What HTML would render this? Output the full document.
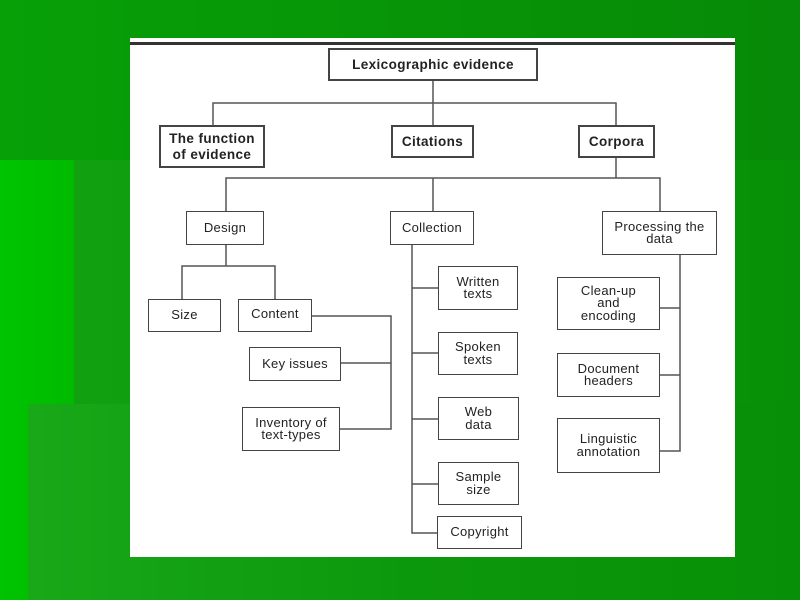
<!DOCTYPE html>
<html><head><style>
html,body{margin:0;padding:0;}
body{width:800px;height:600px;position:relative;overflow:hidden;background:linear-gradient(to right,#00c400,#009a00 40%,#008a00);font-family:"Liberation Sans",sans-serif;}
.top{position:absolute;left:0;top:0;width:800px;height:160px;background:linear-gradient(to right,#07a007,#078a07);}
.b1{position:absolute;left:74px;top:160px;width:726px;height:440px;background:linear-gradient(to right,#10a010,#0a9a0a 50%,#079007);}
.b2{position:absolute;left:28px;top:404px;width:772px;height:196px;background:linear-gradient(to right,#18a818,#0c980c 50%,#079007);}
.paper{position:absolute;left:130px;top:38px;width:605px;height:519px;background:#fff;}
.bar{position:absolute;left:130px;top:42px;width:605px;height:3px;background:#333;}
.bx{position:absolute;border:1.5px solid #444;box-sizing:border-box;display:flex;align-items:center;justify-content:center;text-align:center;font-size:13px;line-height:12.5px;color:#222;letter-spacing:0.3px;background:#fff;white-space:nowrap;}
.bd{font-weight:bold;font-size:13.5px;line-height:16px;border-width:2px;letter-spacing:0.4px;}
svg{position:absolute;left:0;top:0;}
</style></head><body>
<div class="top"></div><div class="b1"></div><div class="b2"></div>
<div class="paper"></div><div class="bar"></div>
<svg width="800" height="600"><g stroke="#555" stroke-width="1.5" fill="none">
<path d="M433 81V125M213 125V103H616V125"/>
<path d="M616 158V178M226 211V178H660V211M433 178V211"/>
<path d="M226 245V266M182 299V266H275V299"/>
<path d="M312 316H391V429H340M341 363H391"/>
<path d="M412 245V533H437M412 288H438M412 353H438M412 419H438M412 484H438"/>
<path d="M680 255V451H660M660 308H680M660 375H680"/>
</g></svg>
<div class="bx bd" style="left:328px;top:48px;width:210px;height:33px">Lexicographic evidence</div>
<div class="bx bd" style="left:159px;top:125px;width:106px;height:43px">The function<br>of evidence</div>
<div class="bx bd" style="left:391px;top:125px;width:83px;height:33px">Citations</div>
<div class="bx bd" style="left:578px;top:125px;width:77px;height:33px">Corpora</div>
<div class="bx" style="left:186px;top:211px;width:78px;height:34px">Design</div>
<div class="bx" style="left:390px;top:211px;width:84px;height:34px">Collection</div>
<div class="bx" style="left:602px;top:211px;width:115px;height:44px">Processing the<br>data</div>
<div class="bx" style="left:148px;top:299px;width:73px;height:33px">Size</div>
<div class="bx" style="left:238px;top:299px;width:74px;height:33px;align-items:flex-start;padding-top:8px">Content</div>
<div class="bx" style="left:249px;top:347px;width:92px;height:34px">Key issues</div>
<div class="bx" style="left:242px;top:407px;width:98px;height:44px">Inventory of<br>text-types</div>
<div class="bx" style="left:438px;top:266px;width:80px;height:44px">Written<br>texts</div>
<div class="bx" style="left:438px;top:332px;width:80px;height:43px">Spoken<br>texts</div>
<div class="bx" style="left:438px;top:397px;width:81px;height:43px">Web<br>data</div>
<div class="bx" style="left:438px;top:462px;width:81px;height:43px">Sample<br>size</div>
<div class="bx" style="left:437px;top:516px;width:85px;height:33px">Copyright</div>
<div class="bx" style="left:557px;top:277px;width:103px;height:53px">Clean-up<br>and<br>encoding</div>
<div class="bx" style="left:557px;top:353px;width:103px;height:44px">Document<br>headers</div>
<div class="bx" style="left:557px;top:418px;width:103px;height:55px">Linguistic<br>annotation</div>
</body></html>
